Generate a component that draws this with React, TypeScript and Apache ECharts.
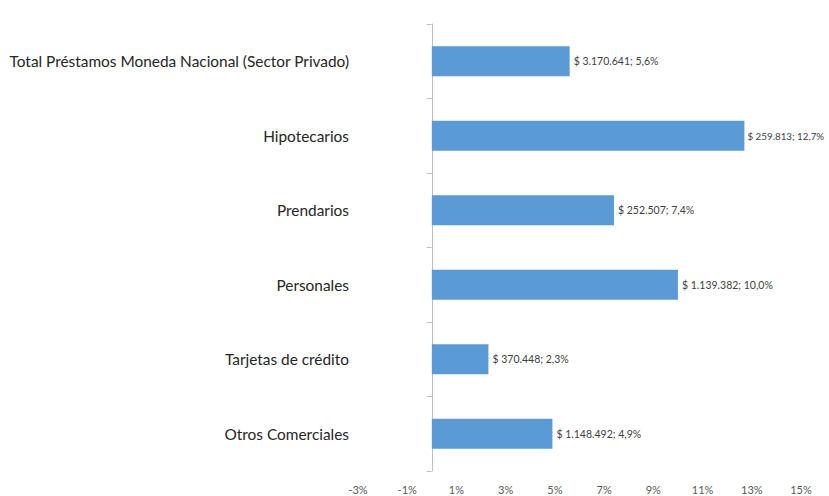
import React, { useEffect, useRef } from "react";
import * as echarts from "echarts";

const categories = [
  "Total Préstamos Moneda Nacional (Sector Privado)",
  "Hipotecarios",
  "Prendarios",
  "Personales",
  "Tarjetas de crédito",
  "Otros Comerciales",
];
const growthPct = [5.6, 12.7, 7.4, 10.0, 2.3, 4.9];
const amountLabels = ["3.170.641", "259.813", "252.507", "1.139.382", "370.448", "1.148.492"];
const xTickMin = -3;
const xTickMax = 15;
const xTickStep = 2;

const FONT = "Lato, 'Open Sans', sans-serif";

export default function App() {
  const ref = useRef<HTMLDivElement>(null);
  useEffect(() => {
    if (!ref.current) return;
    const chart = echarts.init(ref.current, null, { renderer: "svg" });
    const maxV = Math.max(...growthPct);
    chart.setOption({
      animation: false,
      backgroundColor: "#ffffff",
      grid: { left: 358, right: 28, top: 24, bottom: 25, containLabel: false },
      xAxis: {
        type: "value",
        min: xTickMin,
        max: xTickMax,
        interval: xTickStep,
        axisLine: { show: false },
        axisTick: { show: false },
        splitLine: { show: false },
        axisLabel: {
          formatter: (v: number) => `${v}%`,
          color: "#595959",
          fontFamily: FONT,
          fontSize: 11,
          margin: 13,
        },
      },
      yAxis: [
        {
          type: "category",
          data: categories,
          inverse: true,
          axisLine: { show: false, onZero: false },
          axisTick: { show: false },
          axisLabel: {
            color: "#262626",
            fontFamily: FONT,
            fontSize: 15.4,
            margin: 9,
          },
        },
        {
          type: "category",
          data: categories,
          inverse: true,
          position: "left",
          axisLine: { show: true, onZero: true, lineStyle: { color: "#BFBFBF", width: 1 } },
          axisTick: { show: true, length: 5, lineStyle: { color: "#BFBFBF" } },
          axisLabel: { show: false },
        },
      ],
      series: [
        {
          type: "bar",
          yAxisIndex: 0,
          data: growthPct.map((v) =>
            v === maxV ? { value: v, label: { fontSize: 9.8, distance: 3 } } : v
          ),
          barWidth: "40%",
          itemStyle: { color: "#5B9BD5" },
          label: {
            show: true,
            position: "right",
            distance: 4,
            fontFamily: FONT,
            fontSize: 10.5,
            color: "#404040",
            formatter: (p: any) =>
              `$ ${amountLabels[p.dataIndex]}; ${growthPct[p.dataIndex].toFixed(1).replace(".", ",")}%`,
          },
        },
      ],
    });
    return () => chart.dispose();
  }, []);
  return <div ref={ref} style={{ width: 829, height: 496, position: "absolute", left: 0, top: 0 }} />;
}
